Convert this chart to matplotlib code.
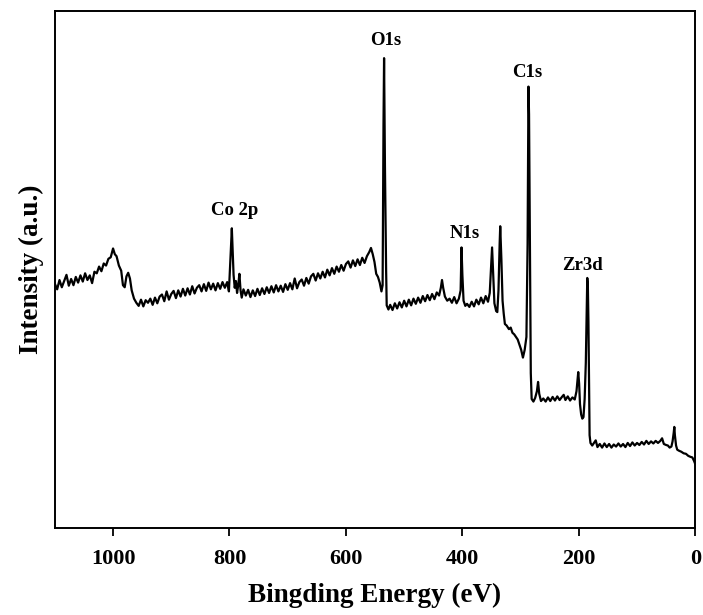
import matplotlib
matplotlib.use("Agg")
import matplotlib.pyplot as plt

plt.rcParams['font.family'] = ['Liberation Serif', 'DejaVu Serif']
plt.rcParams['font.weight'] = 'bold'

# XPS survey (binding energy in eV, intensity in a.u.)
energy = [
    1100, 1096, 1092, 1088, 1084, 1080, 1076, 1072, 1068, 1064, 1060, 1056, 1052, 1048, 1044, 1040,
    1036, 1032, 1028, 1024, 1020, 1016, 1012, 1008, 1004, 1000, 997, 994, 990, 986, 983, 980,
    977, 974, 971, 968, 964, 960, 956, 952, 948, 944, 940, 936, 932, 928, 924, 920,
    916, 912, 908, 904, 900, 896, 892, 888, 884, 880, 876, 872, 868, 864, 860, 856,
    852, 848, 844, 840, 836, 832, 828, 824, 820, 816, 812, 808, 804, 801, 799, 797,
    796, 795, 793, 791, 789, 787, 785, 783, 781, 779, 776, 772, 768, 764, 760, 756,
    752, 748, 744, 740, 736, 732, 728, 724, 720, 716, 712, 708, 704, 700, 696, 692,
    688, 684, 680, 676, 672, 668, 664, 660, 656, 652, 648, 644, 640, 636, 632, 628,
    624, 620, 616, 612, 608, 604, 600, 596, 592, 588, 584, 580, 576, 572, 568, 564,
    560, 557, 554, 551, 548, 545, 542, 539, 537, 535.5, 534.5, 533, 531, 530, 527, 524,
    520, 516, 512, 508, 504, 500, 496, 492, 488, 484, 480, 476, 472, 468, 464, 460,
    456, 452, 448, 444, 440, 437, 435, 433, 430, 426, 422, 418, 414, 410, 406, 403,
    401.5, 400, 398, 395, 392, 388, 384, 380, 376, 372, 368, 364, 360, 356, 353, 351,
    349, 347, 345, 342, 340, 338, 336, 335, 333, 331, 329, 327, 324, 320, 317, 314,
    311, 308, 305, 302, 299, 296, 293, 290, 288, 286.5, 285.5, 284, 282.5, 281, 278, 275,
    272, 270, 268, 265, 261, 257, 253, 249, 245, 241, 237, 233, 229, 226, 223, 219,
    215, 211, 207, 204, 202, 201, 199.5, 198, 196, 194, 192, 190, 188, 186.5, 185.5, 184.5,
    183.5, 182.5, 181.5, 180, 177, 174, 171, 168, 164, 160, 156, 152, 148, 144, 140, 136,
    132, 128, 124, 120, 116, 112, 108, 104, 100, 96, 92, 88, 84, 80, 76, 72,
    68, 64, 60, 57, 54, 50, 47, 44, 41, 39, 37, 36, 35, 33, 31, 28,
    24, 20, 16, 12, 8, 5, 2, 0,
]
intensity = [
    47.3, 46.2, 48.0, 46.6, 47.8, 49.0, 46.9, 48.2, 47.0, 48.6, 47.5, 48.9, 47.7, 49.3, 48.0, 48.9,
    47.4, 49.6, 49.3, 50.6, 49.7, 51.2, 50.8, 52.1, 52.4, 54.1, 53.0, 52.6, 50.8, 49.8, 47.0, 46.6,
    48.7, 49.4, 48.3, 46.0, 44.4, 43.6, 43.0, 44.2, 42.9, 44.1, 43.6, 44.4, 43.2, 44.6, 43.5, 44.8,
    45.2, 43.9, 45.8, 44.2, 45.3, 45.9, 44.5, 46.0, 44.8, 46.3, 45.0, 46.4, 45.2, 46.8, 45.4, 46.5,
    47.0, 45.8, 47.2, 45.9, 47.5, 46.2, 47.3, 46.0, 47.4, 46.3, 47.6, 46.5, 47.6, 45.8, 50.5, 55.5,
    58.0, 55.0, 49.0, 46.5, 47.8, 45.5, 47.0, 49.2, 46.0, 44.6, 46.2, 45.0, 46.1, 44.7, 46.0, 44.9,
    46.3, 45.1, 46.4, 45.3, 46.6, 45.5, 46.8, 45.6, 47.0, 45.8, 46.9, 45.7, 47.2, 46.1, 47.4, 46.2,
    48.3, 46.4, 47.6, 48.1, 46.9, 48.4, 47.3, 48.7, 49.2, 47.9, 49.3, 48.3, 49.6, 48.5, 50.0, 48.9,
    50.3, 49.2, 50.6, 49.6, 50.9, 49.8, 51.1, 51.6, 50.4, 51.8, 50.7, 52.0, 50.9, 52.3, 51.3, 52.6,
    53.4, 54.2, 53.0, 51.5, 49.2, 48.6, 47.5, 45.8, 47.0, 78.0, 90.9, 70.0, 50.0, 43.1, 42.3, 43.2,
    42.2, 43.5, 42.5, 43.7, 42.7, 44.0, 42.9, 44.2, 43.1, 44.4, 43.4, 44.6, 43.6, 44.9, 43.9, 45.1,
    44.1, 45.3, 44.3, 45.6, 45.0, 46.5, 48.0, 46.5, 44.8, 44.0, 44.4, 43.6, 44.7, 43.5, 44.4, 46.0,
    54.3, 49.0, 44.0, 43.0, 43.4, 42.8, 43.8, 42.9, 44.2, 43.3, 44.6, 43.5, 44.9, 43.8, 45.5, 50.0,
    54.3, 49.0, 43.5, 42.0, 41.8, 46.0, 55.0, 58.4, 52.0, 44.0, 41.5, 39.5, 39.2, 38.5, 38.8, 37.8,
    37.5, 37.0, 36.5, 35.5, 34.5, 33.0, 34.5, 37.0, 55.0, 85.4, 80.0, 55.0, 30.0, 25.0, 24.5, 25.2,
    26.5, 28.3, 26.0, 24.6, 25.1, 24.5, 25.3, 24.6, 25.4, 24.7, 25.5, 24.8, 25.4, 25.8, 24.8, 25.5,
    24.7, 25.3, 24.9, 26.5, 29.0, 30.2, 28.0, 24.0, 22.0, 21.2, 21.5, 25.0, 32.0, 42.0, 48.4, 47.0,
    40.0, 28.0, 18.0, 16.5, 16.0, 16.5, 17.0, 15.7, 16.3, 15.6, 16.4, 15.7, 16.3, 15.6, 16.2, 15.8,
    16.4, 15.8, 16.3, 15.7, 16.5, 15.9, 16.6, 16.0, 16.5, 16.1, 16.7, 16.2, 16.9, 16.3, 16.8, 16.4,
    16.9, 16.5, 16.9, 17.4, 16.3, 16.1, 16.0, 15.6, 15.8, 16.8, 18.5, 19.6, 18.0, 16.0, 15.2, 15.0,
    14.8, 14.5, 14.4, 14.0, 13.8, 13.7, 13.0, 12.4,
]

peak_names = ['O1s', 'C1s', 'Co 2p', 'N1s', 'Zr3d']
peak_x = [532, 289, 792, 395, 193]
peak_y = [94.3, 88.1, 61.5, 57.0, 50.9]

fig = plt.figure(figsize=(7.03, 6.15), dpi=100)
ax = fig.add_axes([0.078, 0.141, 0.911, 0.841])

ax.plot(energy, intensity, color='black', lw=1.6)

for name, x, y in zip(peak_names, peak_x, peak_y):
    ax.text(x, y, name, ha='center', va='center', fontsize=13.5, fontweight='bold')

ax.set_xlim(1100, 0)
ax.set_ylim(0, 100)
ax.set_xticks([1000, 800, 600, 400, 200, 0])
ax.set_yticks([])
ax.tick_params(axis='x', direction='out', length=6, width=1.3, labelsize=16, pad=9)
for s in ax.spines.values():
    s.set_linewidth(1.4)

ax.set_xlabel('Bingding Energy (eV)', fontsize=19.5, fontweight='bold', labelpad=10)
ax.set_ylabel('Intensity (a.u.)', fontsize=19.5, fontweight='bold', labelpad=8)

fig.savefig('out.png', dpi=100)
